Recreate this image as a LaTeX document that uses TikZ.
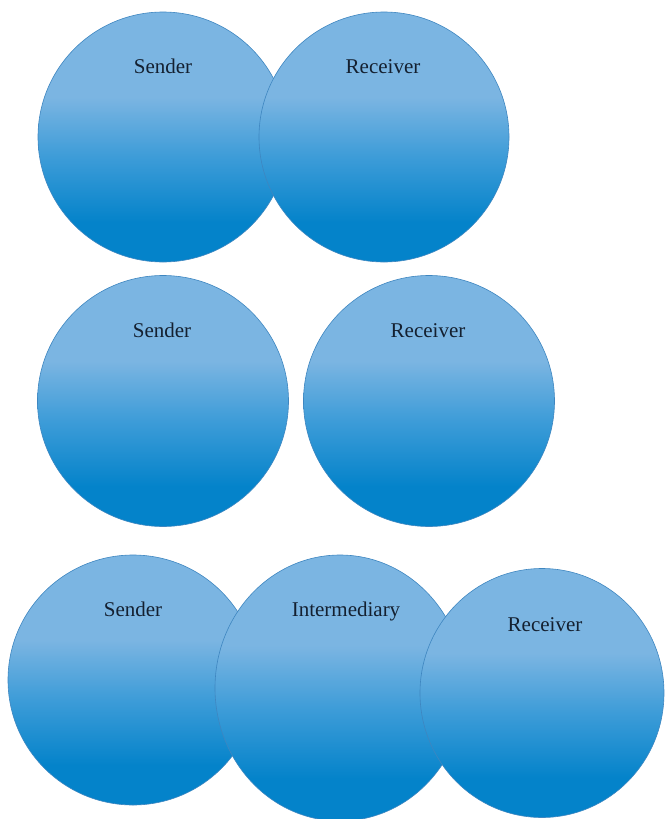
\documentclass[tikz,border=0pt]{standalone}
\usepackage{fontspec}
\setmainfont{Liberation Serif}
\usetikzlibrary{shapes.geometric}
\definecolor{ltblue}{HTML}{7BB5E2}
\definecolor{mdblue}{HTML}{3D9CD8}
\definecolor{dkblue}{HTML}{0483CA}
\definecolor{edgeblue}{HTML}{3E86C0}
\definecolor{txtcol}{HTML}{142030}
\pgfdeclareverticalshading{ballblue}{100bp}{color(0bp)=(dkblue); color(25bp)=(dkblue); color(33bp)=(dkblue); color(46bp)=(mdblue); color(58bp)=(ltblue); color(75bp)=(ltblue); color(100bp)=(ltblue)}
\tikzset{
  ball/.style={ellipse, shade, shading=ballblue, draw=edgeblue, line width=0.6pt, inner sep=0pt, outer sep=0pt},
  lbl/.style={anchor=base, text=txtcol, font=\fontsize{21}{24}\selectfont, inner sep=0pt}
}
\begin{document}
\begin{tikzpicture}[x=1pt, y=-1pt]
\useasboundingbox (0,0) rectangle (665,819);
% row 1
\node[ball, minimum width=250pt, minimum height=250pt] (s1) at (163,137) {};
\node[ball, minimum width=250pt, minimum height=250pt] (r1) at (384,137) {};
\node[lbl] (s1t) at (163,73) {Sender};
\node[lbl] (r1t) at (383,73) {Receiver};
% row 2
\node[ball, minimum width=251pt, minimum height=251pt] (s2) at (163,401) {};
\node[ball, minimum width=251pt, minimum height=251pt] (r2) at (429,401) {};
\node[lbl] (s2t) at (162,337) {Sender};
\node[lbl] (r2t) at (428,337) {Receiver};
% row 3
\node[ball, minimum width=250pt, minimum height=250pt] (s3) at (133,680) {};
\node[ball, minimum width=250pt, minimum height=266pt] (i3) at (340,688) {};
\node[ball, minimum width=244pt, minimum height=249pt] (r3) at (542,693) {};
\node[lbl] (s3t) at (133,616) {Sender};
\node[lbl] (i3t) at (346,616) {Intermediary};
\node[lbl] (r3t) at (545,631) {Receiver};
\end{tikzpicture}
\end{document}
